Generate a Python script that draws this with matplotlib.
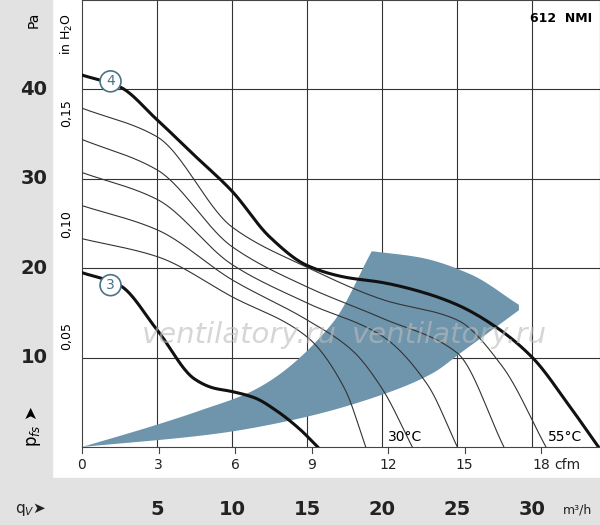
import matplotlib.pyplot as plt
from matplotlib.patches import Rectangle
import numpy as np

# flow in m3/h, static pressure in Pa
curve4_q = [0, 2.5, 5, 7.5, 10, 12.5, 15, 17.5, 20, 22.5, 25, 27.5, 30, 32.5, 34.4]
curve4_p = [41.6, 40.3, 36.6, 32.6, 28.6, 23.5, 20.3, 19.0, 18.4, 17.4, 15.9, 13.5, 10.0, 4.5, 0]
curve3_q = [0, 2.5, 5, 7.5, 8.75, 10, 11.5, 13, 14.5, 15.7]
curve3_p = [19.5, 18.1, 13.1, 7.6, 6.6, 6.2, 5.5, 4.0, 2.0, 0]

thin_curves = [
    ([0, 5, 10, 15, 20, 25, 28, 30.9], [37.9, 34.7, 24.6, 20.1, 16.5, 14.2, 9.0, 0]),
    ([0, 5, 10, 15, 20, 25, 28.1], [34.4, 31.0, 22.4, 17.9, 14.4, 10.5, 0]),
    ([0, 5, 10, 15, 20, 23, 25], [30.7, 27.7, 20.4, 16.1, 12.4, 7.0, 0]),
    ([0, 5, 10, 15, 18, 20, 22], [27.0, 24.3, 18.7, 14.2, 10.8, 6.5, 0]),
    ([0, 5, 10, 15, 17.5, 18.9], [23.3, 21.3, 16.8, 12.3, 6.5, 0]),
]

zone_upper_q = [0, 5, 7.9, 11.5, 16.7, 19.3]
zone_upper_p = [0, 2.5, 4.1, 6.4, 13.9, 21.9]
zone_top_q = [19.3, 22.5, 25.9, 29.1]
zone_top_p = [21.9, 21.2, 19.3, 15.9]
zone_lower_q = [0, 9.0, 14.5, 19.9, 23.4, 25.2, 29.1]
zone_lower_p = [0, 1.5, 3.2, 5.8, 8.3, 10.5, 15.3]

cfm_ticks = [0, 3, 6, 9, 12, 15, 18]
m3h_ticks = [5, 10, 15, 20, 25, 30]
pa_ticks = [10, 20, 30, 40]
inh2o_ticks = [0.05, 0.10, 0.15]


def smooth(xs, ys, n=300):
    # monotone cubic (pchip) through the read points
    x = np.asarray(xs, float)
    y = np.asarray(ys, float)
    h = np.diff(x)
    d = np.diff(y) / h
    m = np.zeros_like(y)
    for i in range(1, len(x) - 1):
        if d[i - 1] * d[i] > 0:
            w1 = 2 * h[i] + h[i - 1]
            w2 = h[i] + 2 * h[i - 1]
            m[i] = (w1 + w2) / (w1 / d[i - 1] + w2 / d[i])
    m[0] = d[0]
    m[-1] = d[-1]
    xx = np.linspace(x[0], x[-1], n)
    k = np.clip(np.searchsorted(x, xx) - 1, 0, len(x) - 2)
    t = (xx - x[k]) / h[k]
    h00 = 2 * t ** 3 - 3 * t ** 2 + 1
    h10 = t ** 3 - 2 * t ** 2 + t
    h01 = -2 * t ** 3 + 3 * t ** 2
    h11 = t ** 3 - t ** 2
    yy = h00 * y[k] + h10 * h[k] * m[k] + h01 * y[k + 1] + h11 * h[k] * m[k + 1]
    return xx, np.clip(yy, 0, None)


fig = plt.figure(figsize=(6, 5.25), dpi=100)
fig.patches.append(Rectangle((0, 0), 52 / 600, 1, transform=fig.transFigure, color="#e2e2e2", zorder=-5))
fig.patches.append(Rectangle((0, 0), 1, 47 / 525, transform=fig.transFigure, color="#e2e2e2", zorder=-5))

ax = fig.add_axes([82 / 600, 78 / 525, 518 / 600, 447 / 525])
ax.set_xlim(0, 34.5)
ax.set_ylim(0, 50)
ax.set_xticks(m3h_ticks)
ax.set_yticks(pa_ticks)
ax.grid(True, color="#333333", linewidth=0.8)
ax.tick_params(length=0, labelbottom=False, labelleft=False)
for s in ax.spines.values():
    s.set_color("#444444")

uq, up = smooth(zone_upper_q, zone_upper_p)
tq, tp = smooth(zone_top_q, zone_top_p)
lq, lp = smooth(zone_lower_q, zone_lower_p)
zq = np.concatenate([uq, tq, lq[::-1]])
zp = np.concatenate([up, tp, lp[::-1]])
ax.fill(zq, zp, color="#6e95ac", zorder=2, linewidth=0)
for q, p in thin_curves:
    ax.plot(*smooth(q, p), color="#333333", linewidth=0.8, zorder=3)
ax.plot(*smooth(curve4_q, curve4_p), color="#111111", linewidth=2.2, zorder=4)
ax.plot(*smooth(curve3_q, curve3_p), color="#111111", linewidth=2.2, zorder=4)

for lab, y in [("4", 40.9), ("3", 18.1)]:
    ax.text(1.9, y, lab, ha="center", va="center", fontsize=10, color="#4a7389", zorder=5,
            bbox=dict(boxstyle="circle,pad=0.25", fc="white", ec="#4a7389", lw=1.2))

ax.text(31.9, 47.9, "612  NMI", ha="center", va="center", fontsize=9, fontweight="bold")
ax.text(21.5, 1.1, "30°C", ha="center", va="center", fontsize=10)
ax.text(32.2, 1.1, "55°C", ha="center", va="center", fontsize=10)
for wx in [10.5, 24.5]:
    ax.text(wx, 12.5, "ventilatory.ru", ha="center", va="center", fontsize=21, color="#bbbbbb",
            alpha=0.6, style="italic", zorder=6)

# cfm axis labels
for c in cfm_ticks:
    q = c * 1.699
    ax.text(q, -2.0, str(c), ha="center", va="center", fontsize=10, color="#222222")
    ax.plot([q, q], [0, -0.7], color="#444444", linewidth=0.8, clip_on=False)
ax.text(32.3, -2.0, "cfm", ha="center", va="center", fontsize=10, color="#222222")
for m in m3h_ticks:
    ax.text(m, -7.0, str(m), ha="center", va="center", fontsize=14, fontweight="bold", color="#222222")
ax.text(33.0, -7.1, "m³/h", ha="center", va="center", fontsize=9, color="#222222")
ax.text(-3.4, -7.0, "q$_V$➤", ha="center", va="center", fontsize=11, color="#222222")

for p in pa_ticks:
    ax.text(-3.2, p, str(p), ha="center", va="center", fontsize=14, fontweight="bold", color="#222222")
ax.text(-3.2, 47.8, "Pa", ha="center", va="center", fontsize=10, rotation=90)
ax.text(-1.0, 46.2, "in H$_2$O", ha="center", va="center", fontsize=9, rotation=90)
for h in inh2o_ticks:
    ax.text(-1.0, h * 249.09, f"{h:.2f}".replace(".", ","), ha="center", va="center",
            fontsize=9, rotation=90)
ax.text(-3.2, 2.3, "p$_{fs}$ ➤", ha="center", va="center", fontsize=12, rotation=90)

fig.savefig("out.png", dpi=100)
